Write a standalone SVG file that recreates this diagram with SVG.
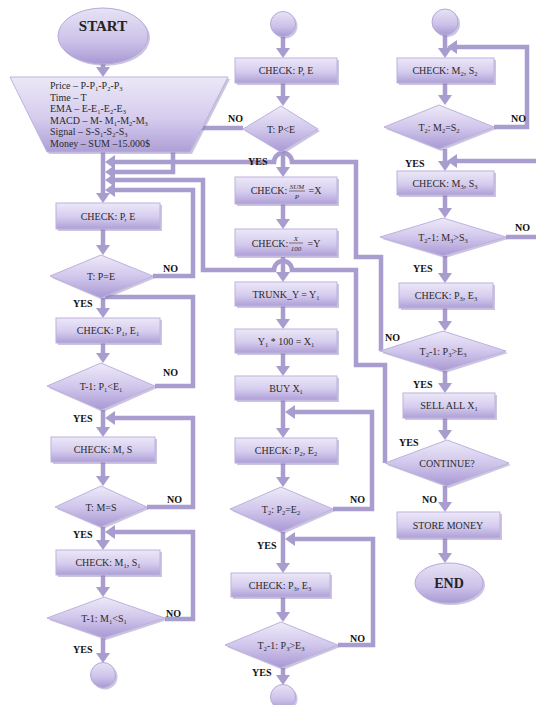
<svg xmlns="http://www.w3.org/2000/svg" width="536" height="705" viewBox="0 0 536 705">
<defs>
<style>
.ln{fill:none;stroke:#a99ccf;stroke-width:4.5}
.t{font-family:"Liberation Serif","Times New Roman",serif;font-size:10px;fill:#2a2a2a;text-anchor:middle}
.ti{font-family:"Liberation Serif","Times New Roman",serif;font-size:10px;fill:#2a2a2a}
.fr{font-family:"Liberation Serif","Times New Roman",serif;font-size:7px;font-style:italic;fill:#2a2a2a;text-anchor:middle}
.lb{font-family:"Liberation Serif","Times New Roman",serif;font-size:10px;font-weight:bold;fill:#111}
.big{font-family:"Liberation Serif","Times New Roman",serif;font-weight:bold;fill:#222;text-anchor:middle}
.sub{font-size:6.5px;baseline-shift:-1.5px}
.box{fill:url(#gb);stroke:#bdb2dd;stroke-width:1}
.dia{fill:url(#gd);stroke:#bdb2dd;stroke-width:1}
.ov{fill:url(#go);stroke:#b5a9d8;stroke-width:1}
.sh{fill:#8c7fb8;opacity:.45}
</style>
<linearGradient id="gb" x1="0" y1="0" x2="0" y2="1">
<stop offset="0" stop-color="#ece8f7"/>
<stop offset="0.55" stop-color="#d5ccee"/>
<stop offset="1" stop-color="#ae9fd7"/>
</linearGradient>
<linearGradient id="gd" x1="0" y1="0" x2="0" y2="1">
<stop offset="0" stop-color="#eeeaf8"/>
<stop offset="0.5" stop-color="#d1c7ec"/>
<stop offset="1" stop-color="#a898d3"/>
</linearGradient>
<linearGradient id="go" x1="0" y1="0" x2="0" y2="1">
<stop offset="0" stop-color="#e8e3f5"/>
<stop offset="0.6" stop-color="#cbc1e9"/>
<stop offset="1" stop-color="#a899d3"/>
</linearGradient>
<marker id="a" viewBox="0 0 10 14" refX="3" refY="7" markerWidth="10" markerHeight="14" markerUnits="userSpaceOnUse" orient="auto">
<path d="M0,0 L10,7 L0,14 Z" fill="#a99ccf"/>
</marker>
</defs>
<rect width="536" height="705" fill="#ffffff"/>

<g id="connectors">
<!-- left column -->
<path class="ln" marker-end="url(#a)" d="M103,64 V70"/>
<path class="ln" marker-end="url(#a)" d="M103,152 V196"/>
<path class="ln" marker-end="url(#a)" d="M103,229 V248"/>
<path class="ln" marker-end="url(#a)" d="M103,298 V311"/>
<path class="ln" marker-end="url(#a)" d="M103,343 V356"/>
<path class="ln" marker-end="url(#a)" d="M103,410 V430"/>
<path class="ln" marker-end="url(#a)" d="M103,462 V479"/>
<path class="ln" marker-end="url(#a)" d="M103,527 V543"/>
<path class="ln" marker-end="url(#a)" d="M103,575 V590"/>
<path class="ln" marker-end="url(#a)" d="M103,638 V656"/>
<path class="ln" marker-end="url(#a)" d="M381,351 V257 H356 V162 H292 A9,9 0 0 0 274,162 H112"/>
<path class="ln" marker-end="url(#a)" d="M243,128 H173 V172 H112"/>
<path class="ln" marker-end="url(#a)" d="M385,463 V365 H356 V270 H292 A9,9 0 0 0 274,270 H203 V180 H112"/>
<path class="ln" marker-end="url(#a)" d="M153,276 H193 V190 H112"/>
<path class="ln" d="M155,386 H193 V297 H105"/>
<path class="ln" marker-end="url(#a)" d="M147,507 H193 V418 H112"/>
<path class="ln" marker-end="url(#a)" d="M165,619 H193 V532 H112"/>
<!-- middle column -->
<path class="ln" marker-end="url(#a)" d="M283,37 V51"/>
<path class="ln" marker-end="url(#a)" d="M283,83 V99"/>
<path class="ln" marker-end="url(#a)" d="M283,152 V170"/>
<path class="ln" marker-end="url(#a)" d="M283,204 V222"/>
<path class="ln" marker-end="url(#a)" d="M283,257 V275"/>
<path class="ln" marker-end="url(#a)" d="M283,306 V322"/>
<path class="ln" marker-end="url(#a)" d="M283,353 V369"/>
<path class="ln" marker-end="url(#a)" d="M283,400 V431"/>
<path class="ln" marker-end="url(#a)" d="M283,463 V480"/>
<path class="ln" marker-end="url(#a)" d="M283,532 V566"/>
<path class="ln" marker-end="url(#a)" d="M283,597 V615"/>
<path class="ln" marker-end="url(#a)" d="M283,668 V678"/>
<path class="ln" marker-end="url(#a)" d="M333,509 H372 V412 H292"/>
<path class="ln" marker-end="url(#a)" d="M338,645 H373 V539 H292"/>
<!-- right column -->
<path class="ln" marker-end="url(#a)" d="M445,35 V51"/>
<path class="ln" marker-end="url(#a)" d="M445,83 V98"/>
<path class="ln" marker-end="url(#a)" d="M445,149 V164"/>
<path class="ln" marker-end="url(#a)" d="M445,195 V211"/>
<path class="ln" marker-end="url(#a)" d="M445,256 V276"/>
<path class="ln" marker-end="url(#a)" d="M445,308 V324"/>
<path class="ln" marker-end="url(#a)" d="M445,371 V386"/>
<path class="ln" marker-end="url(#a)" d="M445,418 V433"/>
<path class="ln" marker-end="url(#a)" d="M445,486 V505"/>
<path class="ln" marker-end="url(#a)" d="M445,538 V556"/>
<path class="ln" marker-end="url(#a)" d="M494,127 H527 V47 H454"/>
<path class="ln" marker-end="url(#a)" d="M506,237 H541 V161 H454"/>
</g>

<!-- LEFT COLUMN -->
<g id="start">
<ellipse cx="105" cy="38" rx="45" ry="28" class="sh"/>
<ellipse cx="103" cy="36" rx="45" ry="28" class="ov"/>
<text class="big" x="103" y="31" font-size="15">START</text>
</g>
<g id="input">
<polygon points="12,79 230,79 192,154 49,154" class="sh"/>
<polygon points="10,77 228,77 190,152 47,152" class="box"/>
<text class="ti" x="50" y="89">Price – P-P<tspan class="sub">1</tspan>-P<tspan class="sub">2</tspan>-P<tspan class="sub">3</tspan></text>
<text class="ti" x="50" y="100.5">Time – T</text>
<text class="ti" x="50" y="112">EMA – E-E<tspan class="sub">1</tspan>-E<tspan class="sub">2</tspan>-E<tspan class="sub">3</tspan></text>
<text class="ti" x="50" y="123.5">MACD – M- M<tspan class="sub">1</tspan>-M<tspan class="sub">2</tspan>-M<tspan class="sub">3</tspan></text>
<text class="ti" x="50" y="135">Signal – S-S<tspan class="sub">1</tspan>-S<tspan class="sub">2</tspan>-S<tspan class="sub">3</tspan></text>
<text class="ti" x="50" y="146.5">Money – SUM –15.000$</text>
</g>
<g id="checkPE">
<rect x="58" y="205" width="104" height="26" class="sh"/>
<rect x="56" y="203" width="104" height="26" class="box"/>
<text class="t" x="108" y="220">CHECK: P, E</text>
</g>
<g id="tPE">
<polygon points="103,257 155,278 103,300 52,278" class="sh"/>
<polygon points="101,255 153,276 101,298 50,276" class="dia"/>
<text class="t" x="101" y="280">T: P=E</text>
</g>
<g id="checkP1E1">
<rect x="58" y="320" width="104" height="25" class="sh"/>
<rect x="56" y="318" width="104" height="25" class="box"/>
<text class="t" x="108" y="334">CHECK: P<tspan class="sub">1</tspan>, E<tspan class="sub">1</tspan></text>
</g>
<g id="tP1E1">
<polygon points="103,365 157,388 103,412 49,388" class="sh"/>
<polygon points="101,363 155,386 101,410 47,386" class="dia"/>
<text class="t" x="101" y="390">T-1: P<tspan class="sub">1</tspan>&lt;E<tspan class="sub">1</tspan></text>
</g>
<g id="checkMS">
<rect x="53" y="439" width="104" height="25" class="sh"/>
<rect x="51" y="437" width="104" height="25" class="box"/>
<text class="t" x="103" y="453">CHECK: M, S</text>
</g>
<g id="tMS">
<polygon points="103,488 149,509 103,529 57,509" class="sh"/>
<polygon points="101,486 147,507 101,527 55,507" class="dia"/>
<text class="t" x="101" y="511">T: M=S</text>
</g>
<g id="checkM1S1">
<rect x="58" y="552" width="104" height="25" class="sh"/>
<rect x="56" y="550" width="104" height="25" class="box"/>
<text class="t" x="108" y="566">CHECK: M<tspan class="sub">1</tspan>, S<tspan class="sub">1</tspan></text>
</g>
<g id="tM1S1">
<polygon points="106,599 167,620 106,640 49,620" class="sh"/>
<polygon points="104,597 165,618 104,638 47,618" class="dia"/>
<text class="t" x="104" y="622">T-1: M<tspan class="sub">1</tspan>&lt;S<tspan class="sub">1</tspan></text>
</g>
<g id="connA">
<circle cx="105" cy="677" r="12.5" class="sh"/>
<circle cx="103" cy="675" r="12.5" class="ov"/>
</g>

<!-- MIDDLE COLUMN -->
<g id="connB">
<circle cx="285" cy="26" r="12.5" class="sh"/>
<circle cx="283" cy="24" r="12.5" class="ov"/>
</g>
<g id="checkPE2">
<rect x="237" y="60" width="102" height="25" class="sh"/>
<rect x="235" y="58" width="102" height="25" class="box"/>
<text class="t" x="286" y="74">CHECK: P, E</text>
</g>
<g id="tPltE">
<polygon points="283,108 320,131 283,154 245,131" class="sh"/>
<polygon points="281,106 318,129 281,152 243,129" class="dia"/>
<text class="t" x="281" y="133">T: P&lt;E</text>
</g>
<g id="checkX">
<rect x="237" y="179" width="102" height="27" class="sh"/>
<rect x="235" y="177" width="102" height="27" class="box"/>
<text class="t" x="269" y="194">CHECK:</text>
<text class="fr" x="297" y="189">SUM</text>
<line x1="289" y1="191" x2="305" y2="191" stroke="#2a2a2a" stroke-width="0.6"/>
<text class="fr" x="297" y="199">P</text>
<text class="t" x="315" y="194">=X</text>
</g>
<g id="checkY">
<rect x="237" y="231" width="102" height="27" class="sh"/>
<rect x="235" y="229" width="102" height="27" class="box"/>
<text class="t" x="270" y="247">CHECK:</text>
<text class="fr" x="296" y="241">X</text>
<line x1="289" y1="243" x2="303" y2="243" stroke="#2a2a2a" stroke-width="0.6"/>
<text class="fr" x="296" y="251">100</text>
<text class="t" x="314" y="247">=Y</text>
</g>
<g id="trunk">
<rect x="237" y="284" width="102" height="24" class="sh"/>
<rect x="235" y="282" width="102" height="24" class="box"/>
<text class="t" x="286" y="298">TRUNK_Y = Y<tspan class="sub">1</tspan></text>
</g>
<g id="mult">
<rect x="237" y="331" width="102" height="24" class="sh"/>
<rect x="235" y="329" width="102" height="24" class="box"/>
<text class="t" x="286" y="345">Y<tspan class="sub">1</tspan> * 100 = X<tspan class="sub">1</tspan></text>
</g>
<g id="buy">
<rect x="237" y="378" width="102" height="24" class="sh"/>
<rect x="235" y="376" width="102" height="24" class="box"/>
<text class="t" x="286" y="392">BUY X<tspan class="sub">1</tspan></text>
</g>
<g id="checkP2E2">
<rect x="237" y="440" width="102" height="25" class="sh"/>
<rect x="235" y="438" width="102" height="25" class="box"/>
<text class="t" x="286" y="454">CHECK: P<tspan class="sub">2</tspan>, E<tspan class="sub">2</tspan></text>
</g>
<g id="tP2E2">
<polygon points="283,489 335,511 283,534 232,511" class="sh"/>
<polygon points="281,487 333,509 281,532 230,509" class="dia"/>
<text class="t" x="281" y="513">T<tspan class="sub">2</tspan>: P<tspan class="sub">2</tspan>=E<tspan class="sub">2</tspan></text>
</g>
<g id="checkP3E3m">
<rect x="233" y="575" width="99" height="24" class="sh"/>
<rect x="231" y="573" width="99" height="24" class="box"/>
<text class="t" x="280" y="589">CHECK: P<tspan class="sub">3</tspan>, E<tspan class="sub">3</tspan></text>
</g>
<g id="tP3E3m">
<polygon points="283,624 340,647 283,670 227,647" class="sh"/>
<polygon points="281,622 338,645 281,668 225,645" class="dia"/>
<text class="t" x="281" y="649">T<tspan class="sub">2</tspan>-1: P<tspan class="sub">3</tspan>&gt;E<tspan class="sub">3</tspan></text>
</g>
<g id="connC">
<circle cx="285" cy="699" r="12.5" class="sh"/>
<circle cx="283" cy="697" r="12.5" class="ov"/>
</g>

<!-- RIGHT COLUMN -->
<g id="connD">
<circle cx="447" cy="24" r="13" class="sh"/>
<circle cx="445" cy="22" r="13" class="ov"/>
</g>
<g id="checkM2S2">
<rect x="399" y="60" width="97" height="25" class="sh"/>
<rect x="397" y="58" width="97" height="25" class="box"/>
<text class="t" x="445" y="74">CHECK: M<tspan class="sub">2</tspan>, S<tspan class="sub">2</tspan></text>
</g>
<g id="tM2S2">
<polygon points="441,107 496,129 441,151 386,129" class="sh"/>
<polygon points="439,105 494,127 439,149 384,127" class="dia"/>
<text class="t" x="439" y="131">T<tspan class="sub">2</tspan>: M<tspan class="sub">2</tspan>=S<tspan class="sub">2</tspan></text>
</g>
<g id="checkM3S3">
<rect x="399" y="173" width="97" height="24" class="sh"/>
<rect x="397" y="171" width="97" height="24" class="box"/>
<text class="t" x="445" y="187">CHECK: M<tspan class="sub">3</tspan>, S<tspan class="sub">3</tspan></text>
</g>
<g id="tM3S3">
<polygon points="445,220 508,239 445,258 382,239" class="sh"/>
<polygon points="443,218 506,237 443,256 380,237" class="dia"/>
<text class="t" x="443" y="241">T<tspan class="sub">2</tspan>-1: M<tspan class="sub">3</tspan>&gt;S<tspan class="sub">3</tspan></text>
</g>
<g id="checkP3E3r">
<rect x="401" y="285" width="94" height="25" class="sh"/>
<rect x="399" y="283" width="94" height="25" class="box"/>
<text class="t" x="446" y="299">CHECK: P<tspan class="sub">3</tspan>, E<tspan class="sub">3</tspan></text>
</g>
<g id="tP3E3r">
<polygon points="445,333 508,353 445,373 382,353" class="sh"/>
<polygon points="443,331 506,351 443,371 380,351" class="dia"/>
<text class="t" x="443" y="355">T<tspan class="sub">2</tspan>-1: P<tspan class="sub">3</tspan>&gt;E<tspan class="sub">3</tspan></text>
</g>
<g id="sell">
<rect x="405" y="395" width="92" height="25" class="sh"/>
<rect x="403" y="393" width="92" height="25" class="box"/>
<text class="t" x="449" y="409">SELL ALL X<tspan class="sub">1</tspan></text>
</g>
<g id="continue">
<polygon points="449,442 511,465 449,488 387,465" class="sh"/>
<polygon points="447,440 509,463 447,486 385,463" class="dia"/>
<text class="t" x="447" y="467" font-size="9">CONTINUE?</text>
</g>
<g id="store">
<rect x="399" y="514" width="103" height="26" class="sh"/>
<rect x="397" y="512" width="103" height="26" class="box"/>
<text class="t" x="448" y="529">STORE MONEY</text>
</g>
<g id="end">
<ellipse cx="451" cy="585" rx="34" ry="20" class="sh"/>
<ellipse cx="449" cy="583" rx="34" ry="20" class="ov"/>
<text class="big" x="449" y="588" font-size="14">END</text>
</g>

<g id="labels">
<text class="lb" x="163" y="272">NO</text>
<text class="lb" x="73" y="307">YES</text>
<text class="lb" x="163" y="376">NO</text>
<text class="lb" x="73" y="422">YES</text>
<text class="lb" x="167" y="503">NO</text>
<text class="lb" x="73" y="538">YES</text>
<text class="lb" x="166" y="617">NO</text>
<text class="lb" x="73" y="653">YES</text>
<text class="lb" x="228" y="122">NO</text>
<text class="lb" x="248" y="165">YES</text>
<text class="lb" x="350" y="503">NO</text>
<text class="lb" x="257" y="549">YES</text>
<text class="lb" x="350" y="642">NO</text>
<text class="lb" x="252" y="676">YES</text>
<text class="lb" x="511" y="122">NO</text>
<text class="lb" x="405" y="167">YES</text>
<text class="lb" x="515" y="231">NO</text>
<text class="lb" x="413" y="272">YES</text>
<text class="lb" x="385" y="341">NO</text>
<text class="lb" x="413" y="388">YES</text>
<text class="lb" x="399" y="446">YES</text>
<text class="lb" x="422" y="503">NO</text>
</g>
</svg>
